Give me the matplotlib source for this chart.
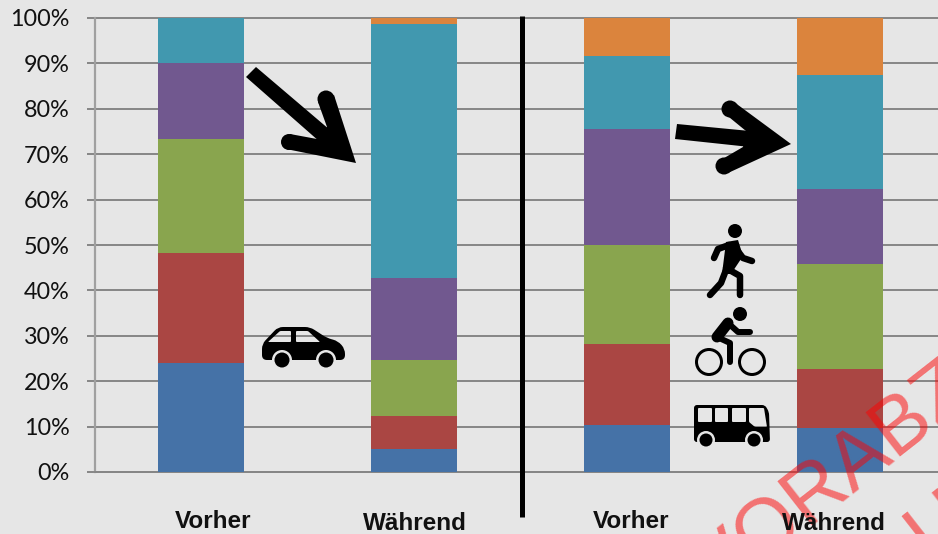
import matplotlib
matplotlib.use('Agg')
import matplotlib.pyplot as plt
from matplotlib.path import Path
from matplotlib.patches import PathPatch, Circle, Polygon

categories = ['Vorher', 'Während', 'Vorher', 'Während']
tick_labels = ['0%', '10%', '20%', '30%', '40%', '50%', '60%', '70%', '80%', '90%', '100%']

blue = [24.0, 5.0, 10.3, 9.7]
red = [24.3, 7.3, 17.8, 13.0]
green = [25.0, 12.4, 21.9, 23.2]
purple = [16.7, 18.0, 25.5, 16.4]
teal = [10.0, 56.0, 16.1, 25.1]
orange = [0.0, 1.3, 8.4, 12.6]

series = [blue, red, green, purple, teal, orange]
colors = ['#4572a7', '#aa4643', '#89a54e', '#71588f', '#4198af', '#db843d']

W, H = 938, 534
bg = '#e6e6e6'
grid = '#868686'

fig = plt.figure(figsize=(W / 100, H / 100), dpi=100, facecolor=bg)

ax = fig.add_axes([94.5 / W, 1 - 472 / H, (W - 94.5) / W, (472 - 18) / H], facecolor=bg)
bottom = [0, 0, 0, 0]
for vals, c in zip(series, colors):
    ax.bar(range(4), vals, 0.404, bottom=bottom, color=c, zorder=3)
    bottom = [b + v for b, v in zip(bottom, vals)]

ax.set_xlim(-0.5, 3.46)
ax.set_ylim(0, 100)
ax.set_yticks(range(0, 101, 10))
ax.set_yticklabels(tick_labels, family='Lato', fontsize=16.8, color='#111111')
ax.set_xticks([])
ax.tick_params(axis='y', length=6, width=1.4, color=grid, pad=12)
ax.grid(axis='y', color=grid, lw=1.4)
for l in ax.get_ygridlines():
    l.set_clip_on(False)
for s in ['top', 'right']:
    ax.spines[s].set_visible(False)
ax.spines['bottom'].set_color(grid)
ax.spines['bottom'].set_linewidth(1.4)
ax.spines['left'].set_color('#a0a0a0')
ax.spines['left'].set_linewidth(1.6)

# overlay in pixels for the pictograms, arrows and labels
ov = fig.add_axes([0, 0, 1, 1], facecolor='none')
ov.set_xlim(0, W)
ov.set_ylim(H, 0)
ov.axis('off')


def px(n):
    return n * 72 / 100


def line(pts, w):
    xs, ys = zip(*pts)
    ov.plot(xs, ys, color='black', lw=px(w), solid_capstyle='round', solid_joinstyle='round')


def rounded(pts, r):
    # closed outline with the corners cut by quadratic curves
    verts, codes = [], []
    n = len(pts)
    for i in range(n):
        p0, p1, p2 = pts[i - 1], pts[i], pts[(i + 1) % n]
        d0 = ((p0[0] - p1[0]) ** 2 + (p0[1] - p1[1]) ** 2) ** 0.5
        d2 = ((p2[0] - p1[0]) ** 2 + (p2[1] - p1[1]) ** 2) ** 0.5
        t0, t2 = min(r, d0 / 2) / d0, min(r, d2 / 2) / d2
        a = (p1[0] + (p0[0] - p1[0]) * t0, p1[1] + (p0[1] - p1[1]) * t0)
        b = (p1[0] + (p2[0] - p1[0]) * t2, p1[1] + (p2[1] - p1[1]) * t2)
        verts += [a, p1, b]
        codes += [Path.MOVETO if i == 0 else Path.LINETO, Path.CURVE3, Path.CURVE3]
    verts.append(verts[0])
    codes.append(Path.CLOSEPOLY)
    return verts, codes


def shape(outer, holes=(), r=3):
    verts, codes = rounded(outer, r)
    for h in holes:
        v, c = rounded(h[::-1], 1)
        verts += v
        codes += c
    ov.add_patch(PathPatch(Path(verts, codes), fc='black', ec='none'))


def disc(x, y, r, c='black'):
    ov.add_patch(Circle((x, y), r, fc=c, ec='none'))


def ring(x, y, r, w):
    ov.add_patch(Circle((x, y), r, fc='none', ec='black', lw=px(w)))


# divider
ov.plot([522, 522], [16, 517], color='black', lw=px(5), solid_capstyle='butt')

# arrow left
ov.add_patch(Polygon([(246, 77), (256, 67), (330, 130), (320, 142)], fc='black', ec='none'))
ov.add_patch(Polygon([(356, 163), (334, 95), (318, 102), (327, 127), (317, 139), (290, 134), (286, 149)],
                     fc='black', ec='none'))
disc(326, 99, 8.5)
disc(289, 142, 8)

# arrow right
ov.add_patch(Polygon([(677, 124), (675, 139), (750, 147), (750, 131)], fc='black', ec='none'))
ov.add_patch(Polygon([(791, 144), (734, 102), (724, 113), (746, 131), (743, 147), (719, 161), (728, 173)],
                     fc='black', ec='none'))
disc(730, 109, 8.5)
disc(724, 166, 8.5)

# walker
disc(735, 231, 7)
ov.add_patch(Polygon([(726, 242), (738, 240), (743, 256), (731, 274), (722, 274)], fc='black', ec='none'))
line([(729, 245), (718, 249), (714, 258)], 6.5)
line([(737, 250), (743, 258), (752, 261)], 6.5)
line([(726, 270), (721, 283), (710, 295)], 6.5)
line([(726, 268), (740, 276), (740, 295)], 6.5)

# cyclist
disc(740, 314, 7)
ring(709, 362, 12.5, 3)
ring(752, 362, 12.5, 3)
line([(728, 323), (717, 337)], 11)
line([(728, 323), (738, 332), (750, 332)], 6)
line([(717, 337), (730, 343), (730, 362)], 6)

# bus
shape([(694, 405), (765, 405), (769, 412), (770, 442), (694, 442)],
      [[(698, 408), (712, 408), (712, 422), (698, 422)],
       [(715, 408), (728, 408), (728, 422), (715, 422)],
       [(732, 408), (746, 408), (746, 422), (732, 422)],
       [(749, 408), (764, 408), (767, 427), (755, 427), (749, 422)]])
disc(706, 440, 9, bg)
disc(754, 440, 9, bg)
disc(706, 440, 6.5)
disc(754, 440, 6.5)

# car
shape([(262, 344), (278, 327), (310, 327), (327, 338), (338, 341), (345, 349), (345, 360), (262, 360)],
      [[(268, 342), (280, 331), (291, 331), (291, 342)],
       [(296, 331), (308, 331), (320, 342), (296, 342)]], r=5)
disc(282, 360, 10, bg)
disc(326, 360, 10, bg)
disc(282, 360, 7.5)
disc(326, 360, 7.5)

# watermark
ov.text(716, 600, 'VORABZUG', family='Liberation Sans', fontsize=58, color=(1, 0, 0, 0.5),
        rotation=38, rotation_mode='anchor', ha='left', va='baseline', clip_on=True)
ov.text(930, 560, 'U', family='Liberation Sans', fontsize=58, color=(1, 0, 0, 0.5),
        rotation=38, rotation_mode='anchor', ha='left', va='baseline', clip_on=True)

# category labels
for x, y, t in zip([213, 415, 631, 834], [522, 524, 522, 524], categories):
    ov.text(x, y, t, family='Liberation Sans', fontweight='bold', fontsize=17.5, color='#111111',
            ha='center', va='center')

fig.savefig('out.png', dpi=100, facecolor=bg)
